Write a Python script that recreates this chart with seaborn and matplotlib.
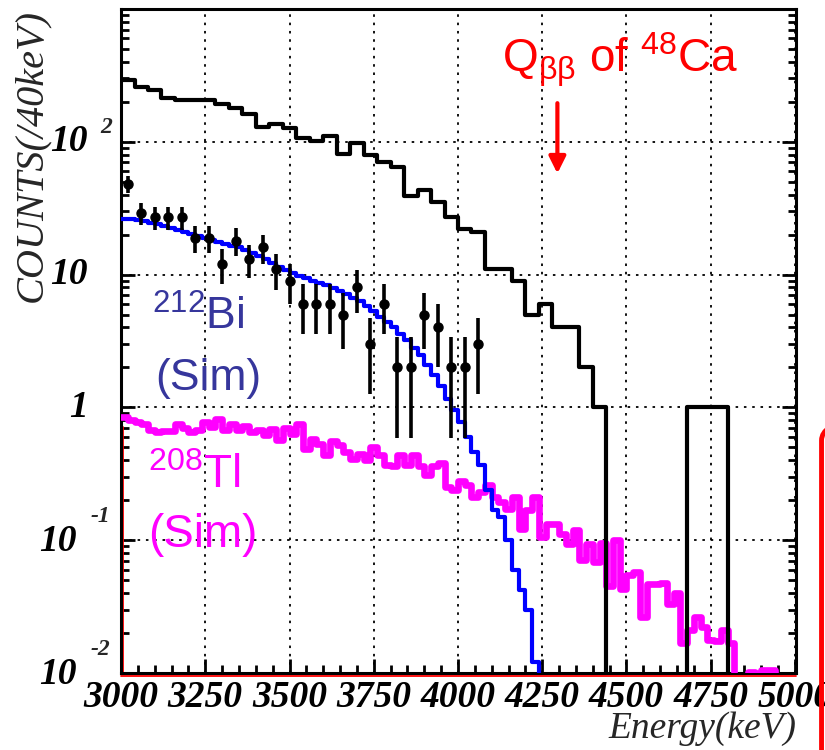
import numpy as np
import matplotlib
matplotlib.use("Agg")
import matplotlib.pyplot as plt
import seaborn as sns
from matplotlib.ticker import FixedLocator, MultipleLocator, LogLocator, NullFormatter
from matplotlib.patches import FancyBboxPatch

# measured spectrum (black histogram), 40 keV bins from 3000 keV
meas_edges = np.arange(3000, 5001, 40)
meas_counts = [292, 259, 245, 215, 208, 208, 206, 192, 179, 161,
               130, 137, 128, 107, 102, 111, 81, 98, 80, 70,
               65, 39, 43, 35, 27, 22, 21, 11, 11, 9,
               5, 6, 4, 4, 2, 1, 0, 0, 0, 0,
               0, 0, 1, 1, 1, 0, 0, 0, 0, 0]

# selected events (points with sqrt(N) errors), 40 keV bin centres
sel_energy = np.arange(3020, 4061, 40)
sel_counts = [48, 29, 27, 27, 27, 19, 19, 12, 18, 13,
              16, 11, 9, 6, 6, 6, 5, 8, 3, 6,
              2, 2, 5, 4, 2, 2, 3]

# 212Bi simulation, 20 keV bins from 3000 keV
bi_edges = np.arange(3000, 4261, 20)
bi_counts = [26.3, 26.0, 25.6, 25.2, 24.6, 24.0, 23.3, 22.6, 21.8, 20.9,
             20.1, 19.5, 18.8, 18.2, 17.6, 17.0, 16.5, 16.0, 15.2, 14.5,
             13.8, 13.1, 12.3, 11.5, 10.8, 10.2, 9.8, 9.4, 9.0, 8.6,
             8.3, 7.9, 7.5, 7.1, 6.7, 6.3, 5.8, 5.3, 4.8, 4.4,
             4.0, 3.6, 3.2, 2.8, 2.5, 2.1, 1.75, 1.45, 1.15, 0.95,
             0.78, 0.60, 0.46, 0.37, 0.24, 0.17, 0.15, 0.10, 0.06, 0.042,
             0.030, 0.012, 0]

# 208Tl simulation, 20 keV bins from 3000 keV
tl_edges = np.arange(3000, 5001, 20)
tl_counts = [0.85, 0.80, 0.78, 0.75, 0.68, 0.65, 0.66, 0.66, 0.75, 0.70,
             0.65, 0.67, 0.78, 0.71, 0.82, 0.67, 0.75, 0.67, 0.72, 0.65,
             0.68, 0.62, 0.69, 0.565, 0.70, 0.63, 0.75, 0.49, 0.58, 0.53,
             0.435, 0.56, 0.52, 0.46, 0.41, 0.449, 0.405, 0.50, 0.44, 0.366,
             0.36, 0.44, 0.37, 0.44, 0.36, 0.31, 0.36, 0.38, 0.25, 0.238,
             0.28, 0.26, 0.21, 0.23, 0.26, 0.21, 0.194, 0.173, 0.21, 0.122,
             0.17, 0.21, 0.106, 0.133, 0.133, 0.112, 0.094, 0.12, 0.071, 0.094,
             0.069, 0.095, 0.045, 0.10, 0.043, 0.055, 0.058, 0.0265, 0.047, 0.047,
             0.048, 0.033, 0.040, 0.0167, 0.021, 0.0265, 0.0223, 0.0177, 0.0175, 0.021,
             0.0167, 0, 0, 0.0102, 0, 0.0105, 0.0105, 0, 0, 0]

# y tick labels drawn ROOT-style: mantissa + raised exponent
ytick_vals = [0.01, 0.1, 1, 10, 100]
ytick_base = ["10", "10", "1", "10", "10"]
ytick_exp = ["-2", "-1", "", "", "2"]
xtick_vals = np.arange(3000, 5001, 250)

sns.set_style("white")
plt.rcParams["font.family"] = ["Liberation Serif", "DejaVu Serif"]
plt.rcParams["mathtext.fontset"] = "custom"
plt.rcParams["mathtext.rm"] = "Liberation Sans"
plt.rcParams["mathtext.it"] = "Liberation Sans:italic"

fig = plt.figure(figsize=(8.25, 7.5), dpi=100)
ax = fig.add_axes([0.1467, 0.1027, 0.8181, 0.8853])


def step_line(edges, vals, color, lw, z):
    yy = np.append(vals, vals[-1])
    sns.lineplot(x=edges, y=yy, drawstyle="steps-post", estimator=None,
                 sort=False, color=color, lw=lw, ax=ax, zorder=z)


step_line(tl_edges, tl_counts, "#ff00ff", 4.8, 3)
step_line(bi_edges, bi_counts, "#0000ff", 3.0, 4)
step_line(meas_edges, meas_counts, "black", 3.0, 5)

ax.errorbar(sel_energy, sel_counts, yerr=np.sqrt(sel_counts), fmt="o",
            color="black", ms=6.5, elinewidth=2.6, capsize=0, zorder=6)

ax.set_yscale("log", nonpositive="clip")
ax.set_xlim(3000, 5003)
ax.set_ylim(0.01, 1000)

ax.xaxis.set_major_locator(FixedLocator(xtick_vals))
ax.xaxis.set_minor_locator(MultipleLocator(50))
ax.set_xticklabels([str(v) for v in xtick_vals])
ax.yaxis.set_major_locator(FixedLocator(ytick_vals))
ax.yaxis.set_minor_locator(LogLocator(base=10, subs=np.arange(2, 10)))
ax.yaxis.set_minor_formatter(NullFormatter())
ax.set_yticklabels([])

ax.tick_params(which="both", direction="in", width=2, colors="black",
               left=True, right=True, bottom=True, top=False)
ax.tick_params(which="major", length=10, labelsize=27, pad=5)
ax.tick_params(which="minor", length=5.5)
for lab in ax.get_xticklabels():
    lab.set_fontweight("bold")
    lab.set_fontstyle("italic")

tick_font = dict(fontsize=27, fontweight="bold", fontstyle="italic", color="black")
for val, base, ex in zip(ytick_vals, ytick_base, ytick_exp):
    if ex.startswith("-"):
        ax.annotate(base, xy=(-0.0652, val), xycoords=("axes fraction", "data"),
                    xytext=(0, -1), textcoords="offset points",
                    ha="right", va="center", annotation_clip=False, **tick_font)
        ax.annotate(ex, xy=(-0.0459, val), xycoords=("axes fraction", "data"),
                    xytext=(0, 17), textcoords="offset points", ha="left", va="center",
                    annotation_clip=False, fontsize=17, fontweight="bold",
                    fontstyle="italic")
    else:
        ax.annotate(base, xy=(-0.0489, val), xycoords=("axes fraction", "data"),
                    ha="right", va="center", annotation_clip=False, **tick_font)
        if ex:
            ax.annotate(ex, xy=(-0.0311, val), xycoords=("axes fraction", "data"),
                        xytext=(0, 10), textcoords="offset points", ha="left", va="center",
                        annotation_clip=False, fontsize=17, fontweight="bold",
                        fontstyle="italic")

ax.grid(True, which="major", color="black", lw=1.3, ls=(0, (1.4, 3.2)))
for s in ax.spines.values():
    s.set_linewidth(2.2)
    s.set_color("black")

ax.set_xlabel("Energy(keV)", fontsize=27, fontstyle="italic", loc="right")
ax.xaxis.set_label_coords(1.0, -0.058)
ax.set_ylabel("COUNTS(/40keV)", fontsize=29, fontstyle="italic", loc="top")
ax.yaxis.set_label_coords(-0.105, 1.0)

# faint red edges along the frame
ax.plot([0, 1], [-0.004, -0.004], transform=ax.transAxes, color="red", lw=1.3, clip_on=False, zorder=1)
ax.plot([0.003, 0.003], [0, 0.37], transform=ax.transAxes, color="red", lw=1.3, clip_on=False, zorder=1)

# annotations
bi_col = "#36369c"
ax.text(0.046, 0.517, r"$^{212}$Bi", transform=ax.transAxes, color=bi_col,
        fontsize=32, family="Liberation Sans")
ax.text(0.050, 0.426, "(Sim)", transform=ax.transAxes, color=bi_col,
        fontsize=32, family="Liberation Sans")
ax.text(0.040, 0.279, r"$^{208}$Tl", transform=ax.transAxes, color="#ff00ff",
        fontsize=33, family="Liberation Sans")
ax.text(0.040, 0.190, "(Sim)", transform=ax.transAxes, color="#ff00ff",
        fontsize=33, family="Liberation Sans")
ax.text(0.564, 0.905, r"Q$_{\mathrm{ββ}}$ of $^{48}$Ca", transform=ax.transAxes,
        color="red", fontsize=33, family="Liberation Sans")
ax.annotate("", xy=(4295, 55), xytext=(4295, 205),
            arrowprops=dict(arrowstyle="-|>", color="red", lw=3, mutation_scale=25))

# red rounded box cut by the right figure edge
fig.add_artist(FancyBboxPatch((0.9958, -0.1), 0.2, 0.553,
                              boxstyle="round,pad=0,rounding_size=0.04",
                              transform=fig.transFigure, ec="red", fc="none",
                              lw=3.5, clip_on=False))

fig.savefig("out.png", dpi=100)
